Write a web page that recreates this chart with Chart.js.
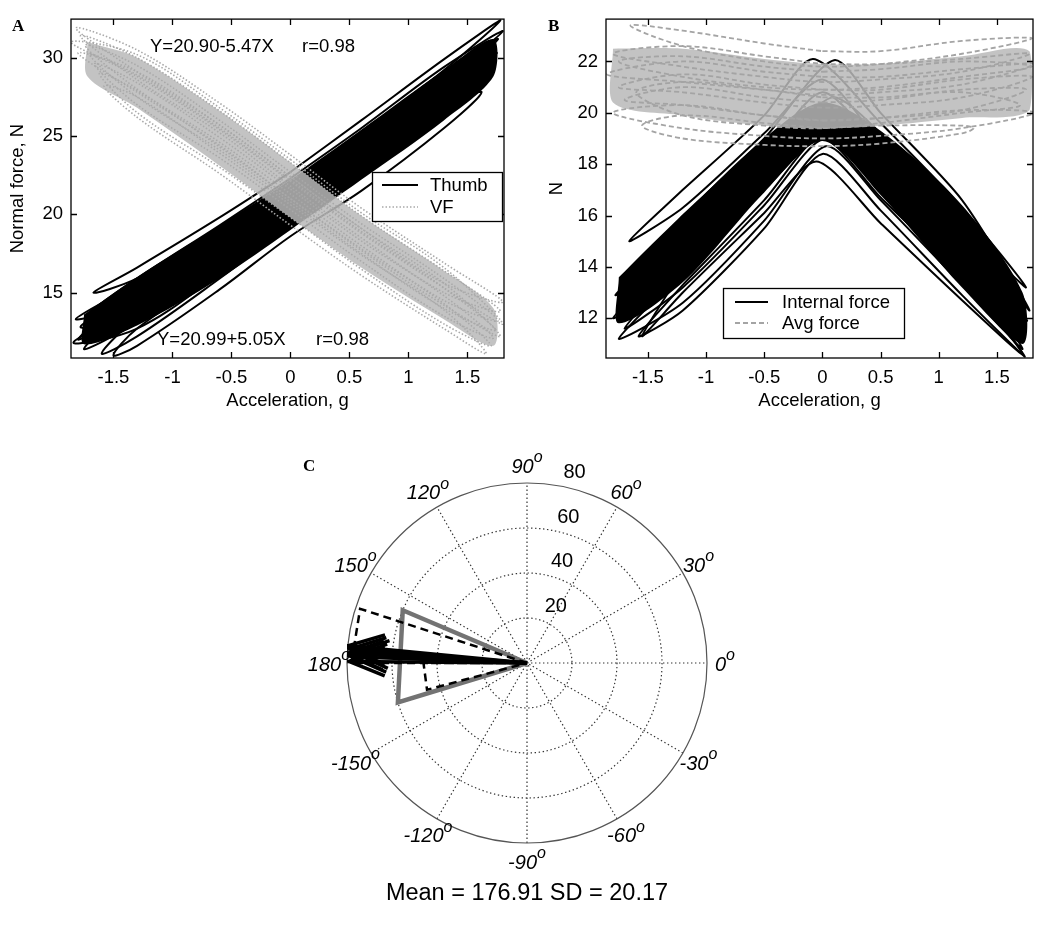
<!DOCTYPE html>
<html><head><meta charset="utf-8">
<script src="https://cdn.jsdelivr.net/npm/chart.js@4.4.1/dist/chart.umd.min.js"></script>
<style>
html,body{margin:0;padding:0;background:#fff;}
body{width:1050px;height:925px;position:relative;overflow:hidden;font-family:"Liberation Sans",Arial,sans-serif;}
canvas{position:absolute;}
.lbl{position:absolute;font-family:"Liberation Serif","Times New Roman",serif;font-weight:bold;font-size:17px;line-height:17px;}
</style></head><body>
<canvas id="cA" width="525" height="415" style="left:0;top:0;width:525px;height:415px"></canvas>
<canvas id="cB" width="525" height="415" style="left:525px;top:0;width:525px;height:415px"></canvas>
<canvas id="cC" width="560" height="495" style="left:250px;top:430px;width:560px;height:495px"></canvas>
<div class="lbl" style="left:12px;top:17px">A</div>
<div class="lbl" style="left:548px;top:17px">B</div>
<div class="lbl" style="left:303px;top:457px">C</div>
<script>
// ---------------- DATA ----------------
const xTicks = [-1.5,-1,-0.5,0,0.5,1,1.5];
const xTickLabels = ['-1.5','-1','-0.5','0','0.5','1','1.5'];
const aYTicks = [15,20,25,30];
const bYTicks = [12,14,16,18,20,22];

// Panel A: loops sampled at these accelerations (upper branch left->right, lower branch right->left)
const loopXA = [-1.3,-0.6,0,0.6,1.3];
const thumbTipL = [[-1.67,15.0],[-1.72,13.6],[-1.8,12.0],[-1.78,12.8],[-1.75,11.4],[-1.6,11.1],[-1.5,11.0],[-1.82,13.3],[-1.7,12.4],[-1.84,11.8]];
const thumbUpper = [
 [16.6,19.8,22.7,26.0,29.9],[15.9,19.3,22.3,25.5,29.4],[15.3,18.8,21.8,25.0,28.9],
 [15.0,18.3,21.3,24.5,28.4],[14.4,17.7,20.8,24.0,27.9],[13.4,16.9,20.2,23.5,27.4],
 [12.7,16.3,19.6,22.8,26.8],[15.6,19.0,22.0,25.2,29.1],[14.9,18.2,21.2,24.4,28.3],[14.1,17.4,20.6,23.8,27.6]];
const thumbTipR = [[1.78,32.4],[1.8,31.7],[1.74,30.6],[1.72,30.0],[1.7,29.3],[1.66,28.6],[1.62,27.8],[1.76,31.2],[1.75,30.3],[1.7,29.0]];
const thumbLower = [
 [29.2,25.2,22.0,19.1,15.9],[28.6,24.6,21.5,18.4,15.0],[28.0,24.0,20.9,17.7,14.2],
 [27.4,23.5,20.4,17.1,13.6],[26.9,23.0,19.9,16.6,13.1],[26.4,22.4,19.3,15.9,12.2],
 [25.5,21.5,18.6,15.2,11.6],[28.2,24.3,21.1,17.9,14.5],[27.6,23.7,20.6,17.3,13.9],[26.6,22.8,19.6,16.2,12.7]];
const thumbCoreX = [-1.75,-1.3,-0.6,0,0.6,1.3,1.72];
const thumbCoreUpper = [13.6,16.0,19.3,22.2,25.4,29.2,31.2];
const thumbCoreLower = [11.7,12.9,15.9,19.0,22.2,26.0,28.8];

const vfTipL = [[-1.82,31.9],[-1.78,31.4],[-1.74,30.8],[-1.7,30.2],[-1.66,29.6],[-1.62,29.0],[-1.58,28.2],[-1.86,31.0],[-1.8,30.3]];
const vfUpper = [
 [30.5,27.1,23.8,20.4,16.9],[30.0,26.6,23.3,19.9,16.4],[29.5,26.0,22.7,19.4,15.9],
 [28.9,25.5,22.2,18.9,15.3],[28.4,24.9,21.6,18.3,14.8],[27.9,24.3,21.0,17.8,14.3],
 [27.5,23.9,20.6,17.4,13.9],[30.2,26.8,23.5,20.1,16.6],[29.1,25.7,22.4,19.1,15.6]];
const vfTipR = [[1.8,14.4],[1.78,13.8],[1.76,13.2],[1.74,12.6],[1.72,12.1],[1.7,11.6],[1.66,11.1],[1.8,13.0],[1.78,12.2]];
const vfLower = [
 [15.6,19.1,22.4,25.7,29.1],[15.0,18.5,21.8,25.2,28.6],[14.5,18.0,21.3,24.6,28.0],
 [14.0,17.5,20.8,24.1,27.5],[13.5,17.0,20.3,23.6,27.0],[13.0,16.5,19.8,23.0,26.5],
 [12.7,16.1,19.3,22.6,26.2],[15.3,18.8,22.1,25.4,28.8],[14.2,17.7,21.0,24.4,27.8]];
const vfCoreX = [-1.72,-1.3,-0.6,0,0.6,1.3,1.72];
const vfCoreUpper = [31.0,30.0,26.6,23.3,19.9,16.4,14.0];
const vfCoreLower = [28.8,26.8,23.1,19.8,16.6,13.3,11.6];

// Panel B: internal force (V-shaped loops)
const innerXB = [-1.2,-0.5,0.5,1.2];
const intTipL = [[-1.66,15.0],[-1.72,13.6],[-1.78,12.9],[-1.8,12.0],[-1.7,11.6],[-1.75,11.2],[-1.55,11.3],[-1.58,11.3]];
const intUpper = [[17.0,19.9,19.6,16.3],[16.0,19.0,20.0,16.6],[15.3,18.4,18.6,15.3],[14.8,17.9,18.2,14.9],
 [14.2,17.4,17.9,14.6],[13.8,17.0,17.6,14.2],[13.9,17.0,16.7,13.6],[13.3,16.6,17.2,13.7]];
const intApexU = [[-0.08,22.1],[0.1,22.05],[0.0,20.8],[-0.02,20.3],[0.0,19.9],[0.05,19.5],[0.0,19.0],[0.02,19.2]];
const intTipR = [[1.75,13.2],[1.78,12.3],[1.72,12.6],[1.76,11.9],[1.7,11.4],[1.72,10.8],[1.72,10.6],[1.74,10.5]];
const intLower = [[15.6,18.8,19.2,16.3],[15.8,19.2,18.0,14.9],[14.6,17.9,17.6,14.5],[14.2,17.4,17.0,13.8],
 [13.8,17.0,16.4,13.2],[13.3,16.6,15.8,12.6],[12.7,15.7,16.1,13.0],[12.9,16.2,15.5,12.3]];
const intApexL = [[0.0,21.3],[0.08,20.6],[0.02,19.9],[0.0,19.4],[0.02,19.0],[0.03,18.7],[-0.05,18.1],[0.0,18.4]];
const intCoreX = [-1.75,-1.2,-0.5,0,0.5,1.2,1.72];
const intCoreUpper = [13.6,16.0,19.0,20.4,19.3,16.4,13.0];
const intCoreLower = [11.8,13.4,16.9,18.9,16.8,13.2,11.0];

// Panel B: average force (flat loops)
const avgX = [-1.2,-0.5,0,0.5,1.2];
const avgTipL = [[-1.65,23.4],[-1.8,22.3],[-1.85,21.5],[-1.75,21.0],[-1.7,20.5],[-1.55,19.5],[-1.6,20.8],[-1.75,22.0],[-1.8,20.0]];
const avgUpper = [[23.2,22.7,22.4,22.4,22.8],[22.6,22.2,21.9,21.9,22.1],[22.0,21.6,21.4,21.4,21.7],[21.5,21.1,20.9,20.9,21.3],
 [21.0,20.6,20.4,20.5,20.9],[19.9,19.6,19.4,19.5,19.5],[21.2,20.9,20.6,20.6,20.8],[22.2,21.8,21.6,21.7,22.0],[20.3,19.9,19.7,19.8,20.1]];
const avgTipR = [[1.8,22.9],[1.78,22.3],[1.82,21.9],[1.8,21.4],[1.75,20.9],[1.3,19.4],[1.7,20.3],[1.8,21.8],[1.82,20.0]];
const avgLower = [[22.3,21.9,21.8,22.0,22.6],[21.6,21.3,21.2,21.4,21.8],[21.1,20.8,20.7,20.9,21.2],[20.6,20.3,20.2,20.4,20.8],
 [20.1,19.8,19.7,19.9,20.3],[19.2,18.8,18.7,18.75,19.0],[20.0,19.6,19.4,19.5,19.9],[21.4,21.0,20.9,21.0,21.4],[19.4,19.1,19.0,19.1,19.4]];
const avgCoreX = [-1.8,-1.2,-0.5,0,0.5,1.2,1.78];
const avgCoreUpper = [22.5,22.5,22.1,21.9,21.9,22.2,22.4];
const avgCoreLower = [20.4,19.9,19.5,19.4,19.5,19.8,20.1];

// Panel C: polar
const rMax = 80;
const ringValues = [20,40,60,80];
const spokeAngles = [0,30,60,90,120,150];
const angleLabels = [0,30,60,90,120,150,180,-150,-120,-90,-60,-30];
const roseSolidStart = [157], roseSolidEnd = [197], roseSolidCount = [60];
const roseDashStart = [162,180], roseDashEnd = [180,195], roseDashCount = [78,46];
const compassAngle = [174.5,175.5,177,178,179.5,176.5];
const compassLength = [80,79,80,78,79,77];
const statsText = 'Mean = 176.91 SD = 20.17';

// ---------------- HELPERS ----------------
const FONT = '"Liberation Sans", Arial, sans-serif';
Chart.defaults.font.family = FONT;
Chart.defaults.color = '#000';
function loopA(tl, up, tr, lo, xs){
  const pts=[], n=xs.length, mid=Math.floor(n/2);
  for(let i=mid;i<n;i++) pts.push({x:xs[i],y:up[i]});
  pts.push({x:tr[0],y:tr[1]});
  for(let i=0;i<n;i++) pts.push({x:xs[n-1-i],y:lo[i]});
  pts.push({x:tl[0],y:tl[1]});
  for(let i=0;i<=mid;i++) pts.push({x:xs[i],y:up[i]});
  return pts;
}
function loopV(tl, up, apU, tr, lo, apL, xs){
  return [{x:xs[0],y:up[0]},{x:xs[1],y:up[1]},{x:apU[0],y:apU[1]},{x:xs[2],y:up[2]},{x:xs[3],y:up[3]},
    {x:tr[0],y:tr[1]},{x:xs[3],y:lo[0]},{x:xs[2],y:lo[1]},{x:apL[0],y:apL[1]},{x:xs[1],y:lo[2]},{x:xs[0],y:lo[3]},
    {x:tl[0],y:tl[1]},{x:xs[0],y:up[0]}];
}
function core(xs, up, lo){
  const p = xs.map((x,i)=>({x, y:up[i]}));
  for(let i=xs.length-1;i>=0;i--) p.push({x:xs[i], y:lo[i]});
  p.push({x:xs[0], y:up[0]});
  return p;
}
function loopSet(pointsList, style, order){
  return pointsList.map(d=>Object.assign({data:d, showLine:true, pointRadius:0, fill:false, order}, style));
}
function coreSet(pts, color, order){
  return {data:pts, showLine:true, pointRadius:0, borderWidth:0, borderColor:'rgba(0,0,0,0)', backgroundColor:color, fill:'shape', tension:0.3, order};
}

const boxTicks = {
  id:'boxTicks',
  afterDatasetsDraw(chart){
    const {ctx, chartArea:a, scales:{x,y}} = chart;
    ctx.save(); ctx.strokeStyle='#000'; ctx.lineWidth=1.3; ctx.setLineDash([]);
    ctx.strokeRect(a.left, a.top, a.right-a.left, a.bottom-a.top);
    const L=6; ctx.beginPath();
    x.ticks.forEach(t=>{const p=Math.round(x.getPixelForValue(t.value))+0.5; ctx.moveTo(p,a.bottom); ctx.lineTo(p,a.bottom-L); ctx.moveTo(p,a.top); ctx.lineTo(p,a.top+L);});
    y.ticks.forEach(t=>{const p=Math.round(y.getPixelForValue(t.value))+0.5; ctx.moveTo(a.left,p); ctx.lineTo(a.left+L,p); ctx.moveTo(a.right,p); ctx.lineTo(a.right-L,p);});
    ctx.stroke();
    const lg = chart.options.plugins.mlLegend;
    if(lg){
      const [x0,y0,x1,y1] = lg.box;
      ctx.fillStyle='#fff'; ctx.fillRect(x0,y0,x1-x0,y1-y0);
      ctx.lineWidth=1.3; ctx.strokeStyle='#000'; ctx.strokeRect(x0+0.5,y0+0.5,x1-x0,y1-y0);
      lg.items.forEach(it=>{
        ctx.beginPath(); ctx.strokeStyle=it.color; ctx.lineWidth=it.width; ctx.setLineDash(it.dash);
        ctx.moveTo(lg.lineX[0], it.y); ctx.lineTo(lg.lineX[1], it.y); ctx.stroke(); ctx.setLineDash([]);
        ctx.fillStyle='#000'; ctx.font='18.5px '+FONT; ctx.textBaseline='middle'; ctx.textAlign='left';
        ctx.fillText(it.text, lg.textX, it.y+1);
      });
    }
    const an = chart.options.plugins.mlText;
    if(an){
      ctx.fillStyle='#000'; ctx.font='18.5px '+FONT; ctx.textBaseline='middle'; ctx.textAlign='left';
      an.forEach(t=>ctx.fillText(t.text, t.x, t.y));
    }
    ctx.restore();
  }
};

function xyOptions(yTicks, yMin, yMax, yTitle, padLeft, yWidth, yTitlePad, padTop, padRight, legend, texts){
  return {
    responsive:false, animation:false, events:[],
    layout:{padding:{left:padLeft, top:padTop, right:padRight, bottom:0}},
    plugins:{legend:{display:false}, tooltip:{enabled:false}, mlLegend:legend, mlText:texts},
    scales:{
      x:{type:'linear', min:-1.86, max:1.81,
         afterBuildTicks:s=>{s.ticks = xTicks.map(v=>({value:v}));},
         afterFit:s=>{s.height=57;},
         grid:{display:false, drawTicks:false}, border:{display:false},
         ticks:{padding:9, font:{size:18.5}, color:'#000', maxRotation:0, autoSkip:false,
                callback:v=>{const i=xTicks.indexOf(v); return i>=0?xTickLabels[i]:'';}},
         title:{display:true, text:'Acceleration, g', font:{size:18.5}, color:'#000', padding:{top:0,bottom:3}}},
      y:{type:'linear', min:yMin, max:yMax,
         afterBuildTicks:s=>{s.ticks = yTicks.map(v=>({value:v}));},
         afterFit:s=>{s.width=yWidth;},
         grid:{display:false, drawTicks:false}, border:{display:false},
         ticks:{padding:8, font:{size:18.5}, color:'#000', autoSkip:false, callback:v=>String(v)},
         title:{display:true, text:yTitle, font:{size:18.5}, color:'#000', padding:{top:yTitlePad,bottom:0}}}
    }
  };
}

// ---------------- PANEL A ----------------
const thumbStyle = {borderColor:'#000', borderWidth:2, tension:0.35};
const vfStyle = {borderColor:'#a9a9a9', borderWidth:1.6, borderDash:[1.5,2], tension:0.35};
const dsA = [].concat(
  [coreSet(core(thumbCoreX, thumbCoreUpper, thumbCoreLower), '#000', 40)],
  loopSet(thumbTipL.map((t,i)=>loopA(t, thumbUpper[i], thumbTipR[i], thumbLower[i], loopXA)), thumbStyle, 30),
  [coreSet(core(vfCoreX, vfCoreUpper, vfCoreLower), 'rgba(185,185,185,0.85)', 20)],
  loopSet(vfTipL.map((t,i)=>loopA(t, vfUpper[i], vfTipR[i], vfLower[i], loopXA)), vfStyle, 10)
);
new Chart(document.getElementById('cA'), {
  type:'scatter', data:{datasets:dsA},
  options: xyOptions(aYTicks, 10.82, 32.47, 'Normal force, N', 0, 71, 7, 16, 21,
    {box:[372,172,502,221], lineX:[382,418], textX:430,
     items:[{text:'Thumb', y:185, color:'#000', width:2, dash:[]},{text:'VF', y:207, color:'#a9a9a9', width:1.6, dash:[1.5,2]}]},
    [{text:'Y=20.90-5.47X', x:150, y:47},{text:'r=0.98', x:302, y:47},
     {text:'Y=20.99+5.05X', x:157, y:340},{text:'r=0.98', x:316, y:340}]),
  plugins:[boxTicks]
});

// ---------------- PANEL B ----------------
const intStyle = {borderColor:'#000', borderWidth:2, tension:0.25};
const avgStyle = {borderColor:'#a4a4a4', borderWidth:1.8, borderDash:[5,3], tension:0.35};
const dsB = [].concat(
  [coreSet(core(intCoreX, intCoreUpper, intCoreLower), '#000', 40)],
  loopSet(intTipL.map((t,i)=>loopV(t, intUpper[i], intApexU[i], intTipR[i], intLower[i], intApexL[i], innerXB)), intStyle, 30),
  [coreSet(core(avgCoreX, avgCoreUpper, avgCoreLower), 'rgba(185,185,185,0.85)', 20)],
  loopSet(avgTipL.map((t,i)=>loopA(t, avgUpper[i], avgTipR[i], avgLower[i], avgX)), avgStyle, 10)
);
new Chart(document.getElementById('cB'), {
  type:'scatter', data:{datasets:dsB},
  options: xyOptions(bYTicks, 10.45, 23.65, 'N', 0, 81, 21, 15, 17,
    {box:[198,288,379,338], lineX:[210,243], textX:257,
     items:[{text:'Internal force', y:302, color:'#000', width:2, dash:[]},{text:'Avg force', y:323, color:'#a4a4a4', width:1.8, dash:[5,3]}]},
    null),
  plugins:[boxTicks]
});

// ---------------- PANEL C ----------------
function pol(r, deg){ const t=deg*Math.PI/180; return {x:r*Math.cos(t), y:r*Math.sin(t)}; }
const roseSolidPts = [];
roseSolidCount.forEach((c,i)=>{ roseSolidPts.push({x:0,y:0}, pol(c, roseSolidStart[i]), pol(c, roseSolidEnd[i]), {x:0,y:0}); });
const roseDashPts = [];
roseDashCount.forEach((c,i)=>{ roseDashPts.push({x:0,y:0}, pol(c, roseDashStart[i]), pol(c, roseDashEnd[i]), {x:0,y:0}); });
const compassSets = compassAngle.map((a,i)=>{
  const L = compassLength[i], tip = pol(L, a), base = pol(0.8*L, a), perp = pol(0.08*L, a+90);
  return {data:[{x:0,y:0}, tip, {x:base.x+perp.x, y:base.y+perp.y}, tip, {x:base.x-perp.x, y:base.y-perp.y}],
    showLine:true, pointRadius:0, borderColor:'#000', borderWidth:3.5, tension:0, order:5};
});
const polarGrid = {
  id:'polarGrid',
  beforeDatasetsDraw(chart){
    const {ctx, scales:{x,y}} = chart;
    const cx=x.getPixelForValue(0), cy=y.getPixelForValue(0);
    const R = x.getPixelForValue(rMax)-cx;
    ctx.save();
    ctx.strokeStyle='#333'; ctx.lineWidth=1.2; ctx.setLineDash([1.4,2.6]);
    ringValues.forEach(r=>{ if(r<rMax){ ctx.beginPath(); ctx.arc(cx,cy,x.getPixelForValue(r)-cx,0,2*Math.PI); ctx.stroke(); } });
    spokeAngles.forEach(a=>{ const t=a*Math.PI/180; ctx.beginPath(); ctx.moveTo(cx-R*Math.cos(t), cy+R*Math.sin(t)); ctx.lineTo(cx+R*Math.cos(t), cy-R*Math.sin(t)); ctx.stroke(); });
    ctx.setLineDash([]); ctx.strokeStyle='#555'; ctx.lineWidth=1.2;
    ctx.beginPath(); ctx.arc(cx,cy,R,0,2*Math.PI); ctx.stroke();
    // angle labels
    ctx.fillStyle='#000'; ctx.textBaseline='middle'; ctx.textAlign='left';
    angleLabels.forEach(a=>{
      const t=a*Math.PI/180, px=cx+1.1*R*Math.cos(t), py=cy-1.1*R*Math.sin(t)+2;
      const s=String(a);
      ctx.font='italic 20px '+FONT; const w1=ctx.measureText(s).width;
      ctx.font='italic 16px '+FONT; const w2=ctx.measureText('o').width;
      const x0=px-(w1+w2)/2;
      ctx.font='italic 20px '+FONT; ctx.fillText(s, x0, py);
      ctx.font='italic 16px '+FONT; ctx.fillText('o', x0+w1, py-9);
    });
    // radius labels
    ctx.font='20px '+FONT; ctx.textBaseline='bottom';
    const c82=Math.cos(82*Math.PI/180), s82=Math.sin(82*Math.PI/180);
    ringValues.forEach(r=>{
      const rr=r+1;
      ctx.fillText('  '+r, x.getPixelForValue(rr*c82), y.getPixelForValue(rr*s82));
    });
    ctx.restore();
  },
  afterDraw(chart){
    const {ctx, scales:{x,y}} = chart;
    const cx=x.getPixelForValue(0), cy=y.getPixelForValue(0), R=x.getPixelForValue(rMax)-cx;
    ctx.save(); ctx.fillStyle='#000'; ctx.font='23.5px '+FONT; ctx.textAlign='center'; ctx.textBaseline='middle';
    ctx.fillText(statsText, cx, cy+R+51); ctx.restore();
  }
};
new Chart(document.getElementById('cC'), {
  type:'scatter',
  data:{datasets:[
    {data:roseSolidPts, showLine:true, pointRadius:0, borderColor:'#737373', borderWidth:4.5, tension:0, order:30},
    {data:roseDashPts, showLine:true, pointRadius:0, borderColor:'#000', borderWidth:2.5, borderDash:[8,5], tension:0, order:20}
  ].concat(compassSets)},
  options:{
    responsive:false, animation:false, events:[],
    layout:{padding:{left:97, right:103, top:53, bottom:82}},
    plugins:{legend:{display:false}, tooltip:{enabled:false}},
    scales:{x:{type:'linear', min:-rMax, max:rMax, display:false}, y:{type:'linear', min:-rMax, max:rMax, display:false}}
  },
  plugins:[polarGrid]
});
</script>
</body></html>
